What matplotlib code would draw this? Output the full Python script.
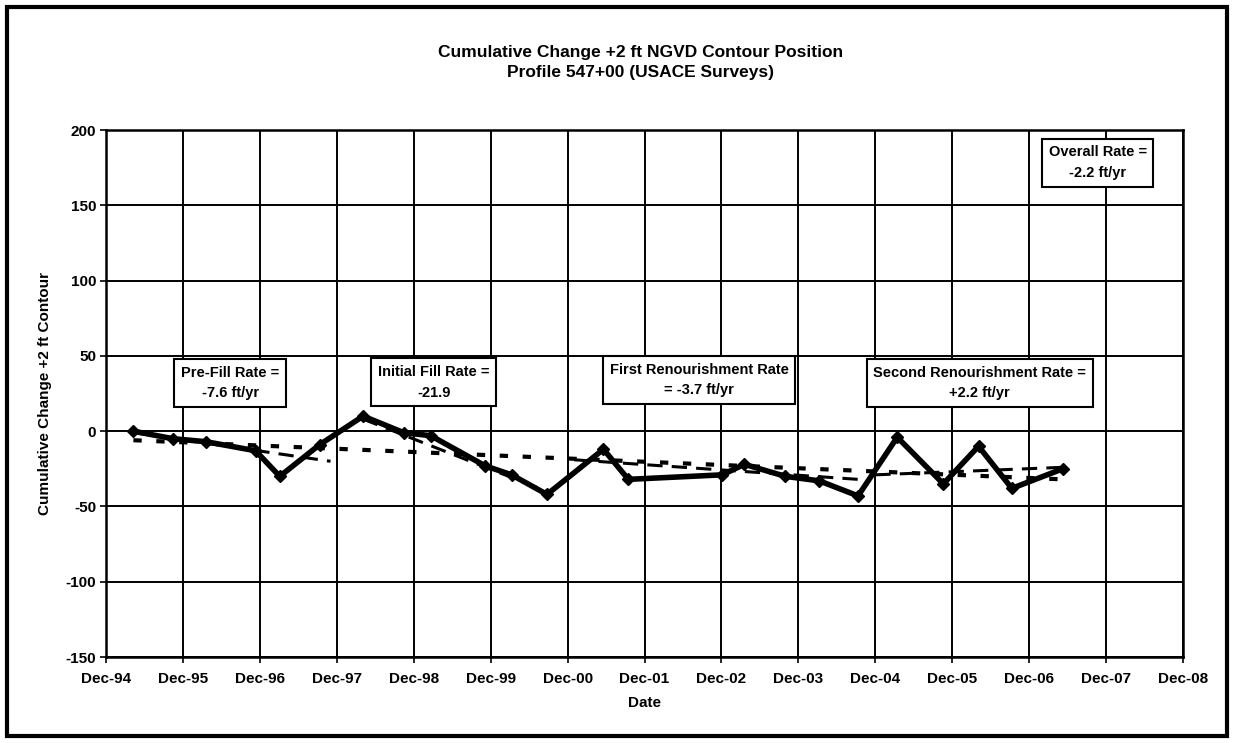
import matplotlib
matplotlib.use("Agg")
import matplotlib.pyplot as plt
from matplotlib.patches import Rectangle
import pandas as pd

plt.rcParams["font.family"] = ["Liberation Sans", "DejaVu Sans"]
plt.rcParams["font.weight"] = "bold"
plt.rcParams["axes.unicode_minus"] = False

# survey dates and cumulative change of +2 ft contour (ft)
survey_dates = ["1995-04-10", "1995-10-15", "1996-03-20", "1996-11-10",
                "1997-03-05", "1997-09-10", "1998-04-05", "1998-10-15",
                "1999-02-20", "1999-11-05", "2000-03-10", "2000-08-25",
                "2001-05-20", "2001-09-15", "2002-12-05", "2003-03-20",
                "2003-10-01", "2004-03-10", "2004-09-10", "2005-03-15",
                "2005-10-20", "2006-04-05", "2006-09-10", "2007-05-10"]
cum_change = [0, -5, -7, -13, -30, -9, 10, -1, -3, -23, -29, -42,
              -12, -32, -29, -22, -30, -33, -43, -4, -35, -10, -38, -25]

# trend segments: start/end dates and values
prefill_dates = ["1995-04-10", "1997-11-01"]
prefill_vals = [-1, -20]
initfill_dates = ["1998-04-05", "2000-08-25"]
initfill_vals = [8, -40]
renour1_dates = ["2001-01-01", "2004-09-10"]
renour1_vals = [-19, -32]
renour2_dates = ["2004-12-01", "2007-05-10"]
renour2_vals = [-29, -24]
overall_dates = ["1995-04-10", "2007-05-10"]
overall_vals = [-6, -32]

tick_years = list(range(1994, 2009))
yticks = [-150, -100, -50, 0, 50, 100, 150, 200]

fig = plt.figure(figsize=(12.34, 7.43), dpi=100)
ax = fig.add_axes([0.0859, 0.1157, 0.8728, 0.7093])

to_dt = pd.to_datetime
for d, v in [(prefill_dates, prefill_vals), (initfill_dates, initfill_vals),
             (renour1_dates, renour1_vals), (renour2_dates, renour2_vals)]:
    ax.plot(to_dt(d), v, color="black", lw=2.2, linestyle=(0, (5, 3)),
            zorder=3)
ax.plot(to_dt(overall_dates), overall_vals, color="black", lw=3,
        linestyle=(0, (2, 3.5)), zorder=3)
ax.plot(to_dt(survey_dates), cum_change, color="black", lw=4,
        marker="D", markersize=6, zorder=4)

ticks = [pd.Timestamp(f"{y}-12-01") for y in tick_years]
ax.set_xticks(ticks)
ax.set_xticklabels([t.strftime("Dec-%y") for t in ticks])
ax.set_xlim(ticks[0], ticks[-1])
ax.set_ylim(-150, 200)
ax.set_yticks(yticks)
ax.grid(True, color="black", lw=1.4)
ax.set_axisbelow(True)
for s in ax.spines.values():
    s.set_linewidth(1.8)
ax.tick_params(axis="both", labelsize=11, length=4, width=1.2)
ax.tick_params(axis="x", pad=7)
ax.tick_params(axis="y", pad=3)
for lbl in ax.get_xticklabels() + ax.get_yticklabels():
    lbl.set_fontweight("bold")

ax.set_xlabel("Date", fontsize=11, fontweight="bold", labelpad=7)
ax.set_ylabel("Cumulative Change +2 ft Contour", fontsize=11,
              fontweight="bold", labelpad=10)

fig.text(0.519, 0.930, "Cumulative Change +2 ft NGVD Contour Position",
         ha="center", va="center", fontsize=12.5, fontweight="bold")
fig.text(0.519, 0.903, "Profile 547+00 (USACE Surveys)",
         ha="center", va="center", fontsize=12.5, fontweight="bold")

box = dict(boxstyle="square,pad=0.45", fc="white", ec="black", lw=1.5)
notes = [("Pre-Fill Rate =\n-7.6 ft/yr", 0.1865, 0.4845),
         ("Initial Fill Rate =\n-21.9", 0.3515, 0.4855),
         ("First Renourishment Rate\n= -3.7 ft/yr", 0.5665, 0.4885),
         ("Second Renourishment Rate =\n+2.2 ft/yr", 0.794, 0.4845),
         ("Overall Rate =\n-2.2 ft/yr", 0.8895, 0.781)]
for txt, x, y in notes:
    fig.text(x, y, txt, ha="center", va="center", fontsize=10.5,
             fontweight="bold", linespacing=1.6, bbox=box, zorder=5)

fig.add_artist(Rectangle((0.006, 0.010), 0.988, 0.980,
                         transform=fig.transFigure, fill=False,
                         ec="black", lw=3))

fig.savefig("out.png", dpi=100)
